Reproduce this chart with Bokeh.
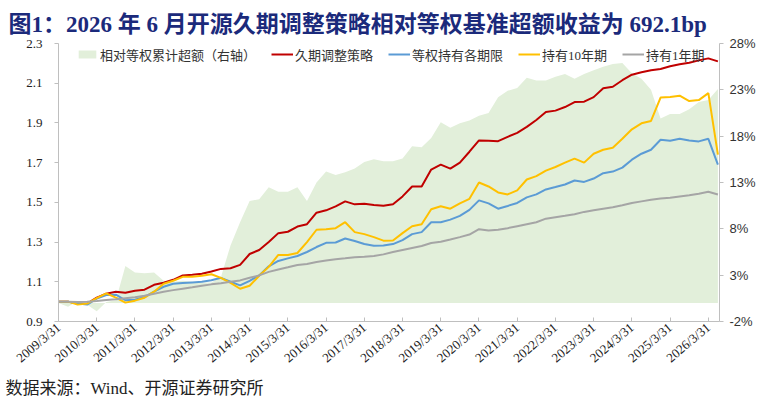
from bokeh.plotting import figure
from bokeh.models import (Range1d, LinearAxis, FixedTicker, Legend, LegendItem,
                          Title, PrintfTickFormatter)
from bokeh.embed import file_html
from bokeh.resources import INLINE

# month index counted from 2009-03 (quarterly observations)
months = [0, 3, 6, 9, 12, 15, 18, 21, 24, 27, 30, 33, 36, 39, 42, 45, 48, 51, 54, 57,
          60, 63, 66, 69, 72, 75, 78, 81, 84, 87, 90, 93, 96, 99, 102, 105, 108, 111, 114, 117,
          120, 123, 126, 129, 132, 135, 138, 141, 144, 147, 150, 153, 156, 159, 162, 165, 168, 171, 174, 177,
          180, 183, 186, 189, 192, 195, 198, 201, 204, 207]

duration_strategy = [1.00, 1.00, 0.99, 0.99, 1.02, 1.04, 1.05, 1.045, 1.055, 1.06,
                     1.085, 1.095, 1.11, 1.132, 1.135, 1.14, 1.152, 1.165, 1.168, 1.185,
                     1.24, 1.26, 1.30, 1.345, 1.352, 1.378, 1.39, 1.448, 1.46, 1.48,
                     1.505, 1.49, 1.493, 1.487, 1.483, 1.49, 1.53, 1.58, 1.58, 1.665,
                     1.69, 1.67, 1.70, 1.755, 1.812, 1.81, 1.808, 1.83, 1.85, 1.88,
                     1.915, 1.955, 1.962, 1.98, 2.005, 2.007, 2.03, 2.075, 2.082, 2.115,
                     2.143, 2.155, 2.165, 2.172, 2.185, 2.195, 2.203, 2.215, 2.225, 2.21]

equal_weight = [1.00, 1.00, 0.99, 0.985, 1.015, 1.033, 1.035, 1.007, 1.01, 1.023,
                1.05, 1.075, 1.09, 1.094, 1.097, 1.10, 1.108, 1.12, 1.10, 1.082,
                1.105, 1.132, 1.178, 1.205, 1.218, 1.23, 1.25, 1.275, 1.296, 1.298,
                1.318, 1.305, 1.29, 1.282, 1.283, 1.29, 1.31, 1.34, 1.35, 1.40,
                1.40, 1.413, 1.432, 1.462, 1.51, 1.495, 1.468, 1.482, 1.497, 1.525,
                1.54, 1.565, 1.577, 1.59, 1.61, 1.603, 1.62, 1.647, 1.655, 1.675,
                1.715, 1.745, 1.765, 1.815, 1.81, 1.82, 1.812, 1.807, 1.82, 1.69]

hold_10y = [1.00, 1.00, 0.985, 0.99, 1.018, 1.042, 1.02, 0.995, 1.005, 1.02,
            1.05, 1.09, 1.105, 1.125, 1.125, 1.13, 1.138, 1.12, 1.095, 1.065,
            1.08, 1.13, 1.175, 1.235, 1.235, 1.245, 1.30, 1.362, 1.365, 1.37,
            1.40, 1.35, 1.34, 1.325, 1.307, 1.308, 1.345, 1.38, 1.39, 1.465,
            1.48, 1.468, 1.495, 1.518, 1.60, 1.58, 1.55, 1.54, 1.56, 1.615,
            1.632, 1.66, 1.678, 1.70, 1.72, 1.70, 1.745, 1.765, 1.775, 1.82,
            1.868, 1.898, 1.91, 2.028, 2.03, 2.037, 2.01, 2.015, 2.05, 1.74]

hold_1y = [1.00, 1.00, 0.998, 1.00, 1.003, 1.008, 1.012, 1.017, 1.022, 1.03,
           1.04, 1.05, 1.058, 1.065, 1.072, 1.08, 1.087, 1.093, 1.10, 1.107,
           1.12, 1.132, 1.15, 1.162, 1.173, 1.185, 1.19, 1.20, 1.207, 1.214,
           1.218, 1.223, 1.226, 1.23, 1.238, 1.25, 1.26, 1.27, 1.28, 1.295,
           1.302, 1.313, 1.325, 1.338, 1.365, 1.358, 1.362, 1.37, 1.38, 1.39,
           1.40, 1.418, 1.425, 1.432, 1.44, 1.452, 1.46, 1.468, 1.475, 1.485,
           1.497, 1.505, 1.513, 1.52, 1.523, 1.53, 1.536, 1.543, 1.553, 1.54]

# cumulative excess vs equal-weight benchmark, % (right axis)
excess_pct = [0.0, -0.4, 0.2, -0.2, -0.9, 0.1, 0.3, 4.0, 3.3, 3.2,
              3.3, 2.4, 2.3, 2.4, 2.3, 2.2, 2.2, 2.8, 6.2, 8.7,
              11.0, 11.2, 12.5, 12.0, 12.0, 12.5, 11.0, 13.0, 14.2, 13.8,
              14.1, 14.5, 15.2, 15.5, 15.3, 15.3, 15.6, 16.9, 16.8, 17.8,
              19.5, 18.9, 19.4, 19.7, 20.2, 20.5, 22.2, 22.9, 23.2, 24.3,
              24.0, 24.0, 24.4, 24.7, 24.2, 24.7, 25.1, 25.5, 25.8, 25.9,
              24.8, 24.2, 23.0, 19.9, 20.4, 20.4, 20.9, 21.7, 21.9, 23.1]

x_tick_labels = ["2009/3/31", "2010/3/31", "2011/3/31", "2012/3/31", "2013/3/31",
                 "2014/3/31", "2015/3/31", "2016/3/31", "2017/3/31", "2018/3/31",
                 "2019/3/31", "2020/3/31", "2021/3/31", "2022/3/31", "2023/3/31",
                 "2024/3/31", "2025/3/31", "2026/3/31"]
left_ticks = [0.9, 1.1, 1.3, 1.5, 1.7, 1.9, 2.1, 2.3]
right_ticks = [-2, 3, 8, 13, 18, 23, 28]

series_names = ["相对等权累计超额（右轴）", "久期调整策略", "等权持有各期限", "持有10年期", "持有1年期"]
title_text = "图1：2026 年 6 月开源久期调整策略相对等权基准超额收益为 692.1bp"
source_text = "数据来源：Wind、开源证券研究所"

SERIF = "Liberation Serif, Noto Sans CJK SC"
AXIS_C = "#BFBFBF"

p = figure(width=758, height=401, output_backend="svg", toolbar_location=None,
           x_range=Range1d(0, 207.5), y_range=Range1d(0.9, 2.3),
           min_border_left=58, min_border_right=38, min_border_top=43, min_border_bottom=78,
           background_fill_color="white", border_fill_color="white")
p.outline_line_color = None
p.xgrid.visible = False
p.ygrid.visible = False
p.extra_y_ranges = {"r": Range1d(-2, 28)}

r_area = p.varea(x=months, y1=0, y2=excess_pct, y_range_name="r",
                 fill_color="#E2EFDA", fill_alpha=1.0)
r_red = p.line(months, duration_strategy, line_color="#C00000", line_width=2)
r_blue = p.line(months, equal_weight, line_color="#5B9BD5", line_width=2)
r_yel = p.line(months, hold_10y, line_color="#FFC000", line_width=2)
r_gray = p.line(months, hold_1y, line_color="#A5A5A5", line_width=2)

# x axis
xa = p.xaxis[0]
xa.ticker = FixedTicker(ticks=[12 * i for i in range(len(x_tick_labels))])
xa.major_label_overrides = {12 * i: s for i, s in enumerate(x_tick_labels)}
xa.major_label_orientation = 0.7
xa.major_label_text_font = "Liberation Serif"
xa.major_label_text_font_size = "13px"
xa.major_label_text_color = "#222222"
xa.axis_line_color = AXIS_C
xa.major_tick_line_color = AXIS_C
xa.major_tick_in = 4
xa.major_tick_out = 0
xa.minor_tick_line_color = None
xa.major_label_standoff = 4

# left axis
ya = p.yaxis[0]
ya.ticker = FixedTicker(ticks=left_ticks)
ya.formatter = PrintfTickFormatter(format="%.1f")
ya.major_label_text_font = "Liberation Serif"
ya.major_label_text_font_size = "13px"
ya.major_label_text_color = "#222222"
ya.axis_line_color = AXIS_C
ya.major_tick_line_color = AXIS_C
ya.major_tick_in = 0
ya.major_tick_out = 4
ya.minor_tick_line_color = None
ya.major_label_standoff = 12

# right axis
ra = LinearAxis(y_range_name="r", ticker=FixedTicker(ticks=right_ticks),
                formatter=PrintfTickFormatter(format="%d%%"))
ra.major_label_text_font = "Liberation Sans"
ra.major_label_text_font_size = "13px"
ra.major_label_text_color = "#333333"
ra.axis_line_color = AXIS_C
ra.major_tick_line_color = AXIS_C
ra.major_tick_in = 0
ra.major_tick_out = 4
ra.minor_tick_line_color = None
ra.major_label_standoff = 6
p.add_layout(ra, "right")

legend = Legend(items=[LegendItem(label=series_names[0], renderers=[r_area]),
                       LegendItem(label=series_names[1], renderers=[r_red]),
                       LegendItem(label=series_names[2], renderers=[r_blue]),
                       LegendItem(label=series_names[3], renderers=[r_yel]),
                       LegendItem(label=series_names[4], renderers=[r_gray])],
                location="top_left", orientation="horizontal")
legend.label_text_font = SERIF
legend.label_text_font_size = "13px"
legend.label_text_color = "#333333"
legend.glyph_width = 22
legend.glyph_height = 10
legend.label_standoff = 2
legend.spacing = 15
legend.padding = 0
legend.margin = 0
legend.label_height = 20
legend.border_line_color = None
legend.background_fill_alpha = 0
legend.location = (18, 257)
p.add_layout(legend)

p.title = Title(text=title_text, align="left", offset=-50, standoff=14,
                text_font=SERIF, text_font_size="23px", text_font_style="bold",
                text_color="#1B2A7B")

footer = Title(text=source_text, align="left", offset=-53, standoff=7,
               text_font=SERIF, text_font_size="17px", text_font_style="normal",
               text_color="#222222")
p.add_layout(footer, "below")

open("out.html", "w").write(file_html(p, INLINE))
